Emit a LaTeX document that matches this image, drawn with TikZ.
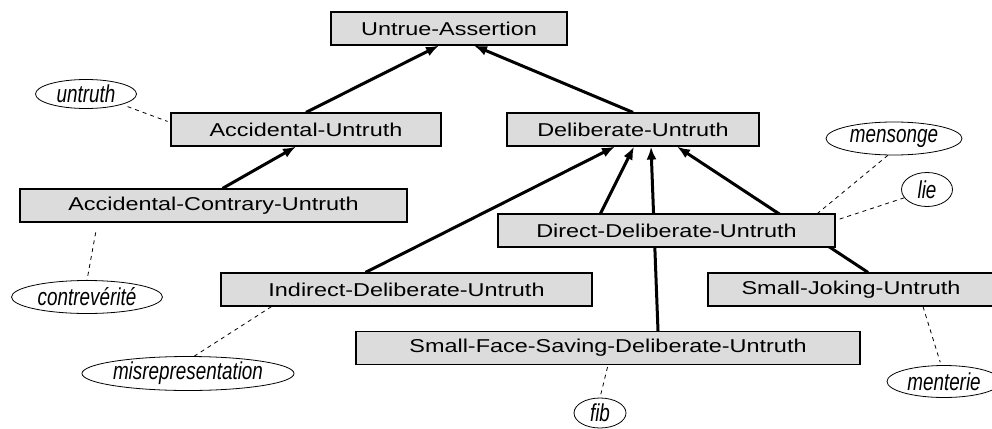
\documentclass[tikz,border=0pt]{standalone}
\usepackage{fontspec}
\usepackage{xcolor}
\usepackage{tikz}
\usetikzlibrary{arrows.meta}
\usetikzlibrary{shapes.geometric}
\usetikzlibrary{backgrounds}
\usetikzlibrary{positioning}

\newfontfamily\boxfont[FakeStretch=1.26]{Liberation Sans}
\newfontfamily\notefont[FakeStretch=0.77]{Liberation Sans}
\definecolor{boxgray}{RGB}{220,220,220}

\begin{document}
\begin{tikzpicture}[x=1pt,y=-1pt,>={Latex[length=13pt,width=10pt]}]
  \tikzstyle{box}=[rectangle, draw=black, fill=boxgray, line width=1.2pt, minimum height=33pt, inner sep=0pt, font=\boxfont\fontsize{18.6}{22}\selectfont]
  \tikzstyle{word}=[ellipse, draw=black, fill=white, line width=0.8pt, inner sep=0pt, font=\notefont\itshape\fontsize{24.5}{28}\selectfont]
  \tikzstyle{isa}=[->, line width=3pt]
  \tikzstyle{gloss}=[line width=0.8pt, dash pattern=on 4pt off 4pt]

  \useasboundingbox (0,0) rectangle (992,428);

  % concepts
  \node[box, minimum width=236pt] (UA) at (449,28.5) {Untrue-Assertion};
  \node[box, minimum width=270pt] (AU) [node distance=101pt, below of=UA, xshift=-143pt] {Accidental-Untruth};
  \node[box, minimum width=252pt] (DU) [node distance=101pt, below of=UA, xshift=184pt] {Deliberate-Untruth};
  \node[box, minimum width=387pt] (ACU) [node distance=76pt, below of=AU, xshift=-92.5pt] {Accidental-Contrary-Untruth};
  \node[box, minimum width=337pt] (DDU) [node distance=101pt, below of=DU, xshift=33.5pt] {Direct-Deliberate-Untruth};
  \node[box, minimum width=371pt] (IDU) [node distance=160pt, below of=DU, xshift=-226.5pt] {Indirect-Deliberate-Untruth};
  \node[box, minimum width=286pt] (SJU) [node distance=59pt, below of=DDU, xshift=184.5pt] {Small-Joking-Untruth};
  \node[box, minimum width=504pt] (SFS) [node distance=117.5pt, below of=DDU, xshift=-58.5pt] {Small-Face-Saving-Deliberate-Untruth};

  % words
  \node[word, minimum width=101pt, minimum height=29pt] (untruth) [node distance=220pt, left of=AU, yshift=35.5pt] {untruth};
  \node[word, minimum width=136pt, minimum height=33pt] (mensonge) [node distance=227.5pt, right of=DDU, yshift=92pt] {mensonge};
  \node[word, minimum width=51pt, minimum height=34pt] (lie) [node distance=260.5pt, right of=DDU, yshift=41pt] {lie};
  \node[word, minimum width=151pt, minimum height=33pt] (contre) [node distance=91.5pt, below of=ACU, xshift=-126.5pt] {contrevérité};
  \node[word, minimum width=202pt, minimum height=34pt] (misrep) [node distance=84pt, below of=IDU, xshift=-218.5pt] {misrepresentation};
  \node[word, minimum width=52pt, minimum height=30pt] (fib) [node distance=65pt, below of=SFS, xshift=-8pt] {fib};
  \node[word, minimum width=114pt, minimum height=32pt] (menterie) [node distance=92pt, below of=SJU, xshift=93pt] {menterie};

  \begin{scope}[on background layer]
    \path
      (AU.north) edge[isa] ([xshift=-10pt]UA.south)
      (DU.north) edge[isa] ([xshift=25pt]UA.south)
      ([xshift=9pt]ACU.north) edge[isa] ([xshift=-10pt]AU.south)
      ([xshift=-41pt]IDU.north) edge[isa] ([xshift=-18pt]DU.south)
      ([xshift=-66pt]DDU.north) edge[isa] ([xshift=1pt]DU.south)
      ([xshift=50pt]SFS.north) edge[isa] ([xshift=18pt]DU.south)
      ([xshift=17pt]SJU.north) edge[isa] ([xshift=44pt]DU.south);

    \path
      (untruth.south east) edge[gloss, shorten <=6pt, shorten >=3pt] ([yshift=7pt]AU.west)
      ([xshift=-116pt]ACU.south) edge[gloss, shorten <=10pt] (contre.north)
      ([xshift=-135pt]IDU.south) edge[gloss] (misrep.70)
      (SFS.south) edge[gloss, shorten <=2pt] (fib.north)
      ([xshift=72pt]SJU.south) edge[gloss, shorten >=3pt] (menterie.100)
      (mensonge.250) edge[gloss] ([xshift=151pt]DDU.north)
      (lie.200) edge[gloss] ([yshift=-7pt]DDU.north east);
  \end{scope}
\end{tikzpicture}
\end{document}
